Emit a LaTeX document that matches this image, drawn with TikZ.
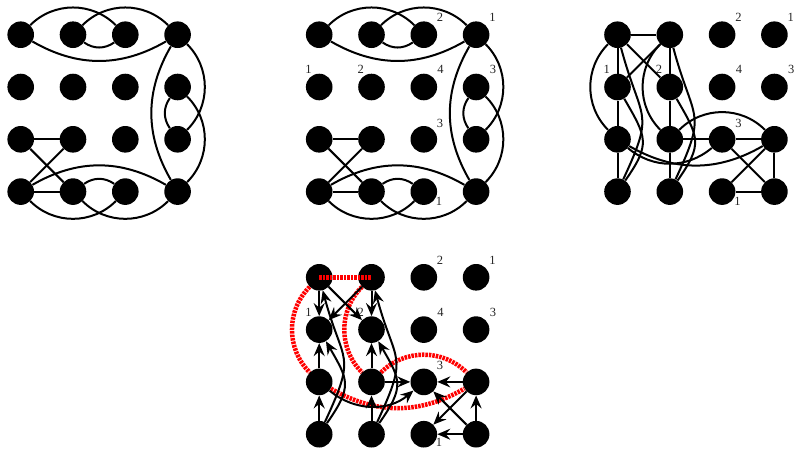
\documentclass[tikz,border=0pt]{standalone}
\usepackage{fontspec}
\setmainfont{Liberation Serif}
\usetikzlibrary{arrows.meta}
\begin{document}
\begin{tikzpicture}[x=1pt,y=1pt,
  dot/.style={circle,fill=black,draw=none,inner sep=0pt,minimum size=26.6pt},
  edge/.style={line width=2pt,black},
  arr/.style={edge,-{Stealth[length=13pt,width=11pt,inset=4.5pt]}},
  cut/.style={line width=4.5pt,red,dash pattern=on 2.5pt off 1pt},
  lab/.style={font=\fontsize{12.5}{12.5}\selectfont,inner sep=0pt,text=black!85}]

\useasboundingbox (0,0) rectangle (794,-448);

% four 4x4 grids of vertices: name = panel letter, column, row
\foreach \p/\xo/\yo in {a/20.7/34.7, b/319.2/34.7, c/617.5/34.7, d/319.2/277.3}{
  \foreach \c in {1,...,4}{
    \foreach \r in {1,...,4}{
      \node[dot] (\p\c\r) at ({\xo+(\c-1)*52.3},{-\yo-(\r-1)*52.3}) {};
    }
  }
}

% vertex numbers
\foreach \p/\lo in {b/-10.0,c/-10.0,d/-8.0}{
  \node[lab] (lab\p31) at ([shift={(16.3,17.4)}]\p31.center) {2};
  \node[lab] (lab\p41) at ([shift={(16.3,17.4)}]\p41.center) {1};
  \node[lab] (lab\p12) at ([shift={(-10.7,17.5)}]\p12.center) {1};
  \node[lab] (lab\p22) at ([shift={(-10.7,17.5)}]\p22.center) {2};
  \node[lab] (lab\p32) at ([shift={(16.8,17.4)}]\p32.center) {4};
  \node[lab] (lab\p42) at ([shift={(16.8,17.4)}]\p42.center) {3};
  \node[lab] (lab\p33) at ([shift={(16.3,16.0)}]\p33.center) {3};
  \node[lab] (lab\p34) at ([shift={(15.3,\lo)}]\p34.center) {1};
}

% the two boundary-wired grids
\foreach \p in {a,b}{
  \draw[edge] (\p11) to[bend left=45] (\p31);
  \draw[edge] (\p21) to[bend left=45] (\p41);
  \draw[edge] (\p21) to[bend right=35] (\p31);
  \draw[edge] (\p11) to[bend right=30] (\p41);
  \draw[edge] (\p41) to[bend left=45] (\p43);
  \draw[edge] (\p42) to[bend left=45] (\p44);
  \draw[edge] (\p42) to[bend right=35] (\p43);
  \draw[edge] (\p41) to[bend right=30] (\p44);
  \draw[edge] (\p14) to[bend left=30] (\p44);
  \draw[edge] (\p24) to[bend left=35] (\p34);
  \draw[edge] (\p14) to[bend right=45] (\p34);
  \draw[edge] (\p24) to[bend right=45] (\p44);
  \draw[edge] (\p13) -- (\p23);
  \draw[edge] (\p14) -- (\p24);
  \draw[edge] (\p13) -- (\p24);
  \draw[edge] (\p23) -- (\p14);
}

% undirected graph
\draw[edge] (c11) -- (c21);
\draw[edge] (c11) -- (c12);
\draw[edge] (c12) -- (c13);
\draw[edge] (c13) -- (c14);
\draw[edge] (c21) -- (c22);
\draw[edge] (c22) -- (c23);
\draw[edge] (c23) -- (c24);
\draw[edge] (c11) -- (c22);
\draw[edge] (c21) -- (c12);
\draw[edge] (c23) -- (c33);
\draw[edge] (c33) -- (c43);
\draw[edge] (c43) -- (c44);
\draw[edge] (c34) -- (c44);
\draw[edge] (c43) -- (c34);
\draw[edge] (c33) -- (c44);
\draw[edge] (c11) to[bend right=45] (c13);
\draw[edge] (c21) to[bend right=45] (c23);
\draw[edge] (c14) to[out=65,in=-75,looseness=1.5] (c11);
\draw[edge] (c14) to[out=55,in=-60,looseness=1.4] (c12);
\draw[edge] (c24) to[out=65,in=-75,looseness=1.5] (c21);
\draw[edge] (c24) to[out=55,in=-60,looseness=1.4] (c22);
\draw[edge] (c23) to[bend left=45] (c43);
\draw[edge] (c13) to[bend right=30] (c43);
\draw[edge] (c13) to[bend right=40] (c33);

% directed graph with the cut edges
\draw[cut] (d11) to[bend right=45] (d13);
\draw[cut] (d21) to[bend right=45] (d23);
\draw[cut] (d23) to[bend left=45] (d43);
\draw[cut] (d13) to[bend right=30] (d43);
\draw[arr] (d11) -- (d12);
\draw[arr] (d13) -- (d12);
\draw[arr] (d14) -- (d13);
\draw[arr] (d14) to[out=65,in=-75,looseness=1.5] (d11);
\draw[arr] (d14) to[out=55,in=-60,looseness=1.4] (d12);
\draw[arr] (d21) -- (d12);
\draw[arr] (d11) -- (d22);
\draw[arr] (d21) -- (d22);
\draw[arr] (d23) -- (d22);
\draw[arr] (d24) -- (d23);
\draw[arr] (d24) to[out=65,in=-75,looseness=1.5] (d21);
\draw[arr] (d24) to[out=55,in=-60,looseness=1.4] (d22);
\draw[arr] (d23) -- (d33);
\draw[arr] (d43) -- (d33);
\draw[arr] (d13) to[bend right=40] (d33);
\draw[arr] (d44) -- (d33);
\draw[arr] (d44) -- (d43);
\draw[arr] (d44) -- (d34);
\draw[arr] (d43) -- (d34);
\draw[cut] (d11.center) -- (d21.center);
\end{tikzpicture}
\end{document}
